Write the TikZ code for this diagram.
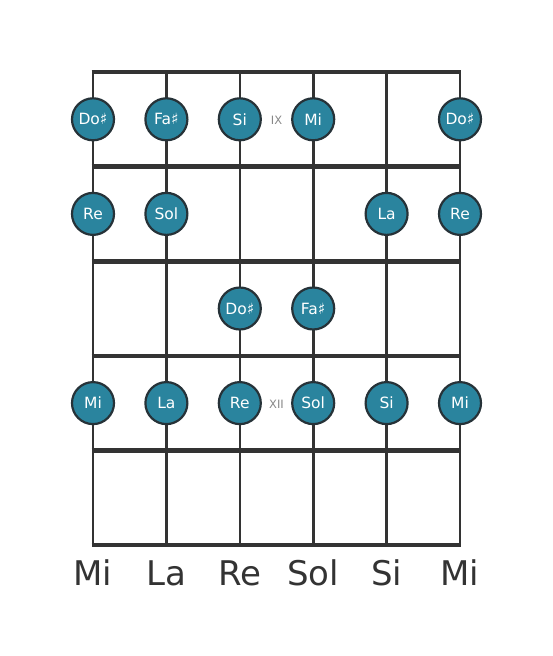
\documentclass[tikz,border=0pt]{standalone}
\usepackage{fontspec}
\setmainfont{DejaVu Sans}
\definecolor{notefill}{HTML}{2A849E}
\definecolor{notedraw}{HTML}{263238}
\definecolor{linecol}{HTML}{333333}
\definecolor{markcol}{HTML}{888888}
\begin{document}
\begin{tikzpicture}[x=1pt,y=-1pt,
  stringline/.style={draw=linecol,line width=2.6pt},
  fretline/.style={draw=linecol,line width=4.6pt},
  note/.style={circle,fill=notefill,draw=notedraw,line width=2.2pt,minimum size=42pt,inner sep=0pt,text=white,font=\fontsize{15.5}{15.5}\selectfont},
  fretmark/.style={text=markcol,font=\fontsize{11.5}{12}\selectfont},
  stringname/.style={text=linecol,font=\fontsize{34}{34}\selectfont}]
\useasboundingbox (0,0) rectangle (553,656);
% strings
\foreach \i/\x in {1/93,2/166.4,3/239.8,4/313.2,5/386.6,6/460}{
  \coordinate (st\i) at (\x,72);
  \coordinate (sb\i) at (\x,545);
  \draw[stringline] (st\i) -- (sb\i);
}
% frets
\foreach \j/\y in {0/72,1/166.6,2/261.2,3/355.8,4/450.4,5/545}{
  \coordinate (fl\j) at (91.7,\y);
  \coordinate (fr\j) at (461.3,\y);
  \draw[fretline] (fl\j) -- (fr\j);
}
% fret markers
\node[fretmark] (ix) at (276.5,120) {IX};
\node[fretmark] (xii) at (276.5,404) {XII};
% row 1
\node[note] (n11) at (93,119.3) {Do♯};
\node[note] (n12) at (166.4,119.3) {Fa♯};
\node[note] (n13) at (239.8,119.3) {Si};
\node[note] (n14) at (313.2,119.3) {Mi};
\node[note] (n16) at (460,119.3) {Do♯};
% row 2
\node[note] (n21) at (93,213.9) {Re};
\node[note] (n22) at (166.4,213.9) {Sol};
\node[note] (n25) at (386.6,213.9) {La};
\node[note] (n26) at (460,213.9) {Re};
% row 3
\node[note] (n33) at (239.8,308.5) {Do♯};
\node[note] (n34) at (313.2,308.5) {Fa♯};
% row 4
\node[note] (n41) at (93,403.1) {Mi};
\node[note] (n42) at (166.4,403.1) {La};
\node[note] (n43) at (239.8,403.1) {Re};
\node[note] (n44) at (313.2,403.1) {Sol};
\node[note] (n45) at (386.6,403.1) {Si};
\node[note] (n46) at (460,403.1) {Mi};
% string names
\node[stringname] (m1) at (93,573) {Mi};
\node[stringname] (m2) at (166.4,573) {La};
\node[stringname] (m3) at (239.8,573) {Re};
\node[stringname] (m4) at (313.2,573) {Sol};
\node[stringname] (m5) at (386.6,573) {Si};
\node[stringname] (m6) at (460,573) {Mi};
\end{tikzpicture}
\end{document}
